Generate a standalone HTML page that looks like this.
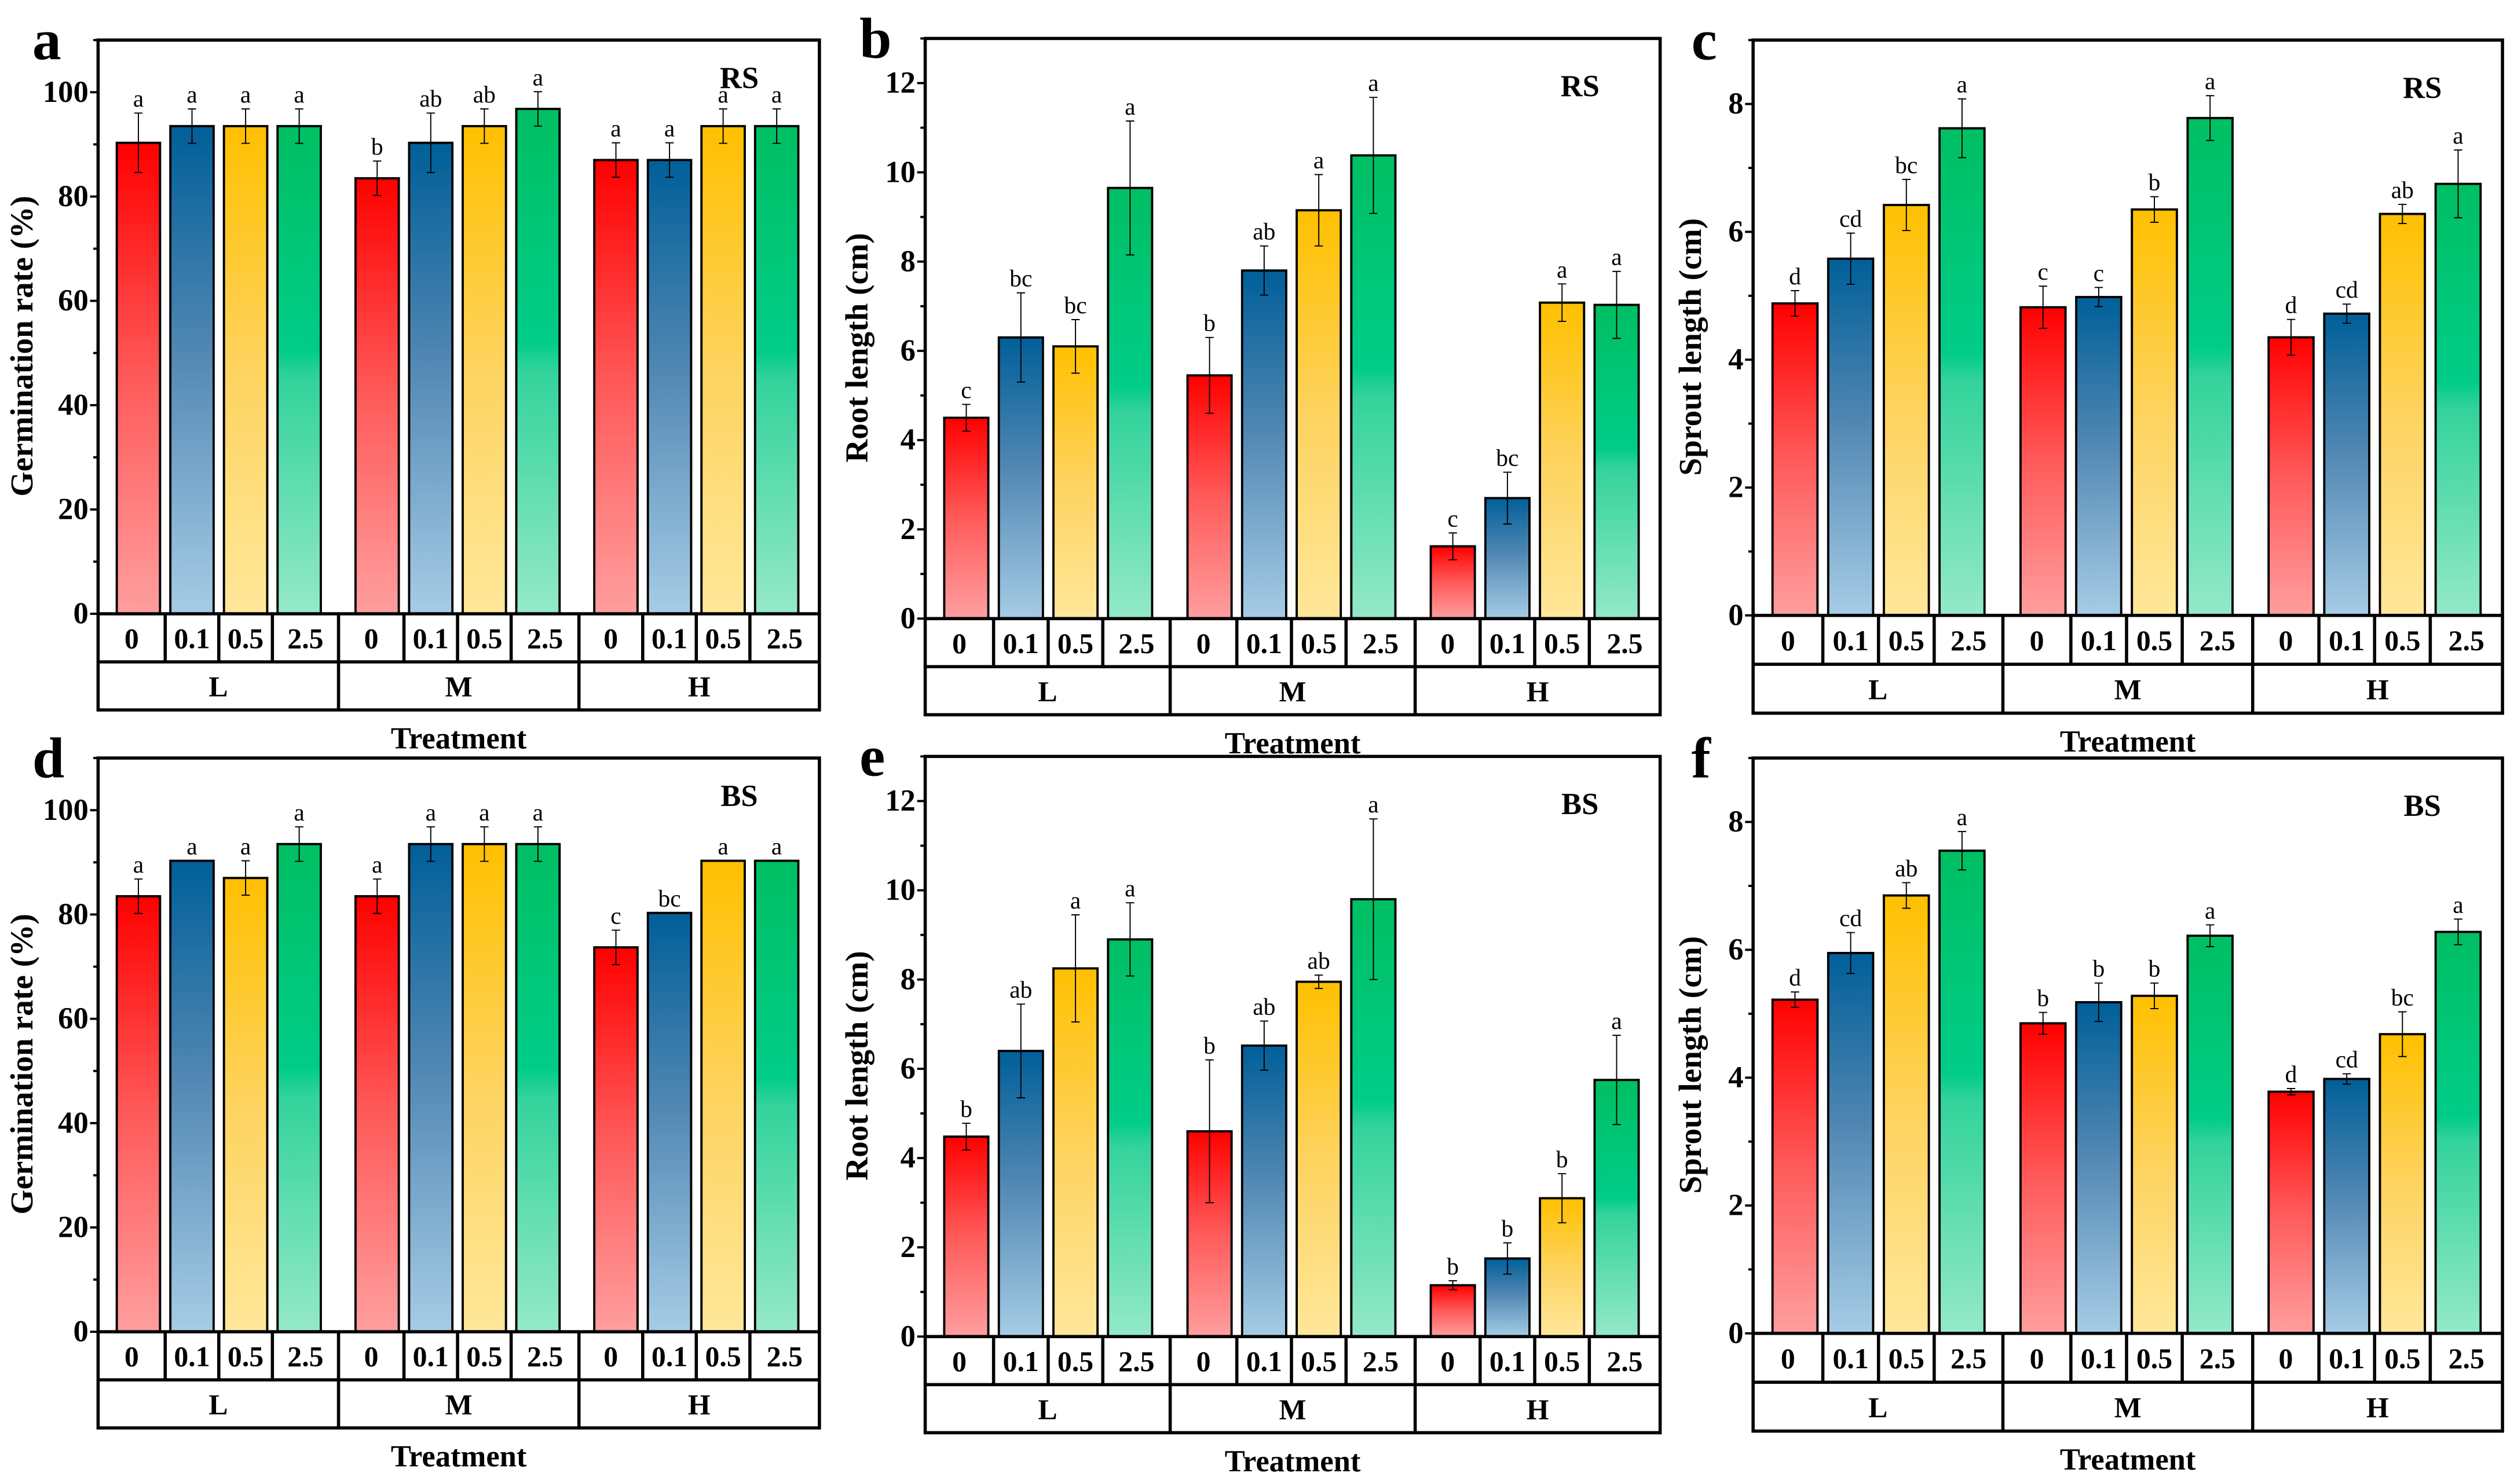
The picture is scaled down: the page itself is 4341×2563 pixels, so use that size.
<!DOCTYPE html>
<html><head><meta charset="utf-8"><style>
html,body{margin:0;padding:0;background:#fff;}
svg{display:block;}
text{font-family:"Liberation Serif",serif;}
</style></head><body>
<svg id="fig" width="4341" height="2563" viewBox="0 0 1568 926" xmlns="http://www.w3.org/2000/svg">
<defs>
<linearGradient id="gR" x1="0" y1="0" x2="0" y2="1"><stop offset="0" stop-color="#ff0000"/><stop offset="0.5" stop-color="#ff5a5a"/><stop offset="1" stop-color="#ff9e9e"/></linearGradient>
<linearGradient id="gB" x1="0" y1="0" x2="0" y2="1"><stop offset="0" stop-color="#005f99"/><stop offset="0.45" stop-color="#4f86b2"/><stop offset="1" stop-color="#a6cce6"/></linearGradient>
<linearGradient id="gY" x1="0" y1="0" x2="0" y2="1"><stop offset="0" stop-color="#ffc000"/><stop offset="0.5" stop-color="#fed35f"/><stop offset="1" stop-color="#ffe79a"/></linearGradient>
<linearGradient id="gG" x1="0" y1="0" x2="0" y2="1"><stop offset="0" stop-color="#00bf63"/><stop offset="0.46" stop-color="#00cc88"/><stop offset="0.52" stop-color="#33d39b"/><stop offset="1" stop-color="#94e9c8"/></linearGradient>
</defs>
</svg>
<script>
// ---- data ----
const groups = ["L","M","H"];
const doses = ["0","0.1","0.5","2.5"];
const aVals = [90.3,93.5,93.5,93.5, 83.5,90.3,93.5,96.8, 87,87,93.5,93.5];
const aErr  = [5.7,3.3,3.3,3.3, 3.3,5.7,3.3,3.3, 3.3,3.3,3.3,3.3];
const aLet  = ["a","a","a","a","b","ab","ab","a","a","a","a","a"];
const bVals = [4.5,6.3,6.1,9.65, 5.45,7.8,9.15,10.38, 1.62,2.7,7.08,7.03];
const bErr  = [0.3,1.0,0.6,1.5, 0.85,0.55,0.8,1.3, 0.3,0.58,0.42,0.75];
const bLet  = ["c","bc","bc","a","b","ab","a","a","c","bc","a","a"];
const cVals = [4.88,5.58,6.42,7.62, 4.82,4.98,6.35,7.78, 4.35,4.72,6.28,6.75];
const cErr  = [0.2,0.4,0.4,0.46, 0.33,0.15,0.2,0.35, 0.28,0.15,0.15,0.53];
const cLet  = ["d","cd","bc","a","c","c","b","a","d","cd","ab","a"];
const dVals = [83.5,90.3,87,93.5, 83.5,93.5,93.5,93.5, 73.7,80.3,90.3,90.3];
const dErr  = [3.3,0,3.3,3.3, 3.3,3.3,3.3,3.3, 3.3,0,0,0];
const dLet  = ["a","a","a","a","a","a","a","a","c","bc","a","a"];
const eVals = [4.48,6.4,8.25,8.9, 4.6,6.52,7.95,9.8, 1.15,1.75,3.1,5.75];
const eErr  = [0.3,1.05,1.2,0.82, 1.6,0.55,0.15,1.8, 0.1,0.35,0.55,1.0];
const eLet  = ["b","ab","a","a","b","ab","ab","a","b","b","b","a"];
const fVals = [5.22,5.95,6.85,7.55, 4.85,5.18,5.28,6.22, 3.78,3.98,4.68,6.28];
const fErr  = [0.12,0.32,0.2,0.3, 0.17,0.3,0.2,0.17, 0.05,0.08,0.35,0.2];
const fLet  = ["d","cd","ab","a","b","b","b","a","d","cd","bc","a"];

const NS="http://www.w3.org/2000/svg";
const svg=document.getElementById('fig');
function mk(tag,attrs,parent){const e=document.createElementNS(NS,tag);for(const k in attrs)e.setAttribute(k,attrs[k]);(parent||svg).appendChild(e);return e;}
const fills=["url(#gR)","url(#gB)","url(#gY)","url(#gG)"];

function panel(cfg){
  const g=mk('g',{});
  
  
  const L=cfg.L,R=cfg.R,T=cfg.T,Y0=cfg.Y0,W=R-L;
  const yS=v=>Y0-(v/cfg.ymax)*(Y0-T);
  const xC=(gi,i)=>L+W*(0.0559+gi*0.331+i*0.0743);
  const bw=W*0.06;
  for(let gi=0;gi<3;gi++)for(let i=0;i<4;i++){
    const k=gi*4+i,v=cfg.vals[k],e=cfg.err[k],cx=xC(gi,i);
    const r=mk('rect',{x:cx-bw/2,y:yS(v),width:bw,height:Y0-yS(v),fill:fills[i],stroke:'#000','stroke-width':1.4},g);
    
    
    if(e>0){
      const eb=mk('path',{d:`M${cx},${yS(v+e)}V${yS(v-e)}M${cx-2.6},${yS(v+e)}H${cx+2.6}M${cx-2.6},${yS(v-e)}H${cx+2.6}`,stroke:'#000','stroke-width':0.7,fill:'none'},g);
      
      
    }
    const t=mk('text',{x:cx,y:yS(v+e)-4,'font-size':15,'text-anchor':'middle'},g);
    t.textContent=cfg.lets[k];
    
    
  }
  const fr=mk('rect',{x:L,y:T,width:W,height:Y0-T,fill:'none',stroke:'#000','stroke-width':2},g);
  
  
  for(let v=0;v<=cfg.ymax+1e-9;v+=cfg.minor){
    const major=Math.abs(v/cfg.major-Math.round(v/cfg.major))<1e-6;
    mk('line',{x1:L,x2:L-(major?5:3),y1:yS(v),y2:yS(v),stroke:'#000','stroke-width':1.4},g);
    if(major){
      const t=mk('text',{x:L-6,y:yS(v)+6,'font-size':19,'font-weight':'bold','text-anchor':'end'},g);
      t.textContent=String(Math.round(v));
      
      
    }
  }
  const r1=Y0+cfg.rh, r2=Y0+2*cfg.rh;
  mk('path',{d:`M${L},${Y0}V${r2}H${R}V${Y0}M${L},${r1}H${R}`,stroke:'#000','stroke-width':2,fill:'none'},g);
  for(let gi=0;gi<3;gi++){
    for(let i=0;i<4;i++){
      const cx=xC(gi,i);
      if(i>0) mk('line',{x1:cx-W*0.0743/2,x2:cx-W*0.0743/2,y1:Y0,y2:r1,stroke:'#000','stroke-width':2},g);
      const lo=i==0?(gi==0?L:L+W*gi/3):cx-W*0.0743/2;
      const hi=i==3?L+W*(gi+1)/3:cx+W*0.0743/2;
      const t=mk('text',{x:(lo+hi)/2,y:Y0+cfg.rh/2+6.5,'font-size':18,'font-weight':'bold','text-anchor':'middle'},g);
      t.textContent=doses[i];
      
      
    }
    if(gi>0) mk('line',{x1:L+W*gi/3,x2:L+W*gi/3,y1:Y0,y2:r2,stroke:'#000','stroke-width':2},g);
    const t=mk('text',{x:L+W*(gi+0.5)/3,y:r1+cfg.rh/2+6.5,'font-size':18,'font-weight':'bold','text-anchor':'middle'},g);
    t.textContent=groups[gi];
    
    
  }
  const xt=mk('text',{x:(L+R)/2,y:r2+24,'font-size':19,'font-weight':'bold','text-anchor':'middle'},g);
  xt.textContent='Treatment';
  
  
  const yt=mk('text',{x:0,y:0,'font-size':20,'font-weight':'bold','text-anchor':'middle',transform:`translate(${cfg.ytx},${(T+Y0)/2+12}) rotate(-90)`},g);
  yt.textContent=cfg.ytitle;
  
  
  const pl=mk('text',{x:cfg.plx,y:T+12,'font-size':36,'font-weight':'bold'},g);
  pl.textContent=cfg.id;
  
  
  const st=mk('text',{x:R-50,y:T+cfg.tagY,'font-size':19,'font-weight':'bold','text-anchor':'middle'},g);
  st.textContent=cfg.tag;
  
  
}
const SH=448;
panel({id:'a',L:61,R:511,T:25,Y0:383,rh:30,ymax:110,major:20,minor:10,vals:aVals,err:aErr,lets:aLet,ytitle:'Germination rate (%)',ytx:20,plx:20,tag:'RS',tagY:30});
panel({id:'b',L:577,R:1035.5,T:24,Y0:386,rh:30,ymax:13,major:2,minor:1,vals:bVals,err:bErr,lets:bLet,ytitle:'Root length (cm)',ytx:541,plx:536,tag:'RS',tagY:36});
panel({id:'c',L:1093.5,R:1561,T:25,Y0:384,rh:30.5,ymax:9,major:2,minor:1,vals:cVals,err:cErr,lets:cLet,ytitle:'Sprout length (cm)',ytx:1061,plx:1055,tag:'RS',tagY:36});
panel({id:'d',L:61,R:511,T:25+SH,Y0:383+SH,rh:30,ymax:110,major:20,minor:10,vals:dVals,err:dErr,lets:dLet,ytitle:'Germination rate (%)',ytx:20,plx:20,tag:'BS',tagY:30});
panel({id:'e',L:577,R:1035.5,T:24+SH,Y0:386+SH,rh:30,ymax:13,major:2,minor:1,vals:eVals,err:eErr,lets:eLet,ytitle:'Root length (cm)',ytx:541,plx:536,tag:'BS',tagY:36});
panel({id:'f',L:1093.5,R:1561,T:25+SH,Y0:384+SH,rh:30.5,ymax:9,major:2,minor:1,vals:fVals,err:fErr,lets:fLet,ytitle:'Sprout length (cm)',ytx:1061,plx:1055,tag:'BS',tagY:36});
</script>
</body></html>
